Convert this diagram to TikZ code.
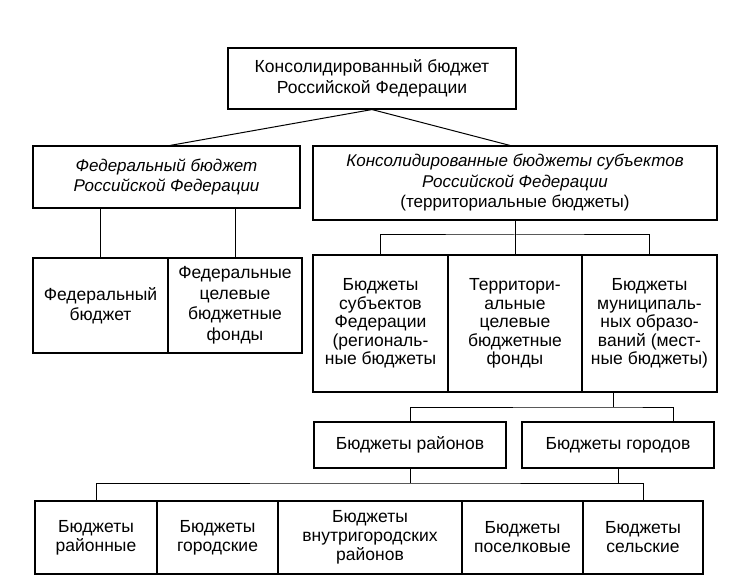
\documentclass[tikz,border=0pt]{standalone}
\usepackage{fontspec}
\setmainfont{Liberation Sans}
\usetikzlibrary{calc}
\begin{document}
\begin{tikzpicture}[x=1pt,y=-1pt,
  box/.style={draw, line width=1.1pt, inner sep=0pt, align=center,
    font=\fontsize{17.5}{20.5}\selectfont},
  itbox/.style={box, font=\fontsize{17}{20.5}\selectfont},
  midbox/.style={box, font=\fontsize{17.5}{18.5}\selectfont},
  lowbox/.style={box, font=\fontsize{17.5}{19}\selectfont},
  link/.style={line width=1pt}]
\useasboundingbox[fill=white] (0,0) rectangle (750,588);
% level 0
\node[box, minimum width=288pt, minimum height=61pt] (top) at (372,78.5)
  {Консолидированный бюджет\\Российской Федерации};
% level 1
\node[itbox, minimum width=267pt, minimum height=62pt] (fed) at (166.5,177)
  {\itshape Федеральный бюджет\\\itshape Российской Федерации};
\node[itbox, minimum width=404pt, minimum height=74pt] (cons) at (515,183)
  {\itshape Консолидированные бюджеты субъектов\\\itshape Российской Федерации\\(территориальные бюджеты)};
% level 2 left
\node[box, minimum width=135pt, minimum height=95pt] (fb) at (100.5,305.5)
  {Федеральный\\бюджет};
\node[box, minimum width=134pt, minimum height=95pt] (ff) at (235,305.5)
  {Федеральные\\целевые\\бюджетные\\фонды};
% level 2 right
\node[midbox, minimum width=135pt, minimum height=137pt] (rs) at (380.5,323.5)
  {Бюджеты\\субъектов\\Федерации\\(региональ-\\ные бюджеты};
\node[midbox, minimum width=134pt, minimum height=137pt] (ts) at (515,323.5)
  {Территори-\\альные\\целевые\\бюджетные\\фонды};
\node[midbox, minimum width=135pt, minimum height=137pt] (mb) at (649.5,323.5)
  {Бюджеты\\муниципаль-\\ных образо-\\ваний (мест-\\ные бюджеты)};
% level 3
\node[box, minimum width=192pt, minimum height=46pt] (rn) at (410,445)
  {Бюджеты районов};
\node[box, minimum width=192pt, minimum height=46pt] (gc) at (618,445)
  {Бюджеты городов};
% level 4
\node[lowbox, minimum width=122pt, minimum height=73pt] (br) at (96,537.5)
  {Бюджеты\\районные};
\node[lowbox, minimum width=121pt, minimum height=73pt] (bg) at (217.5,537.5)
  {Бюджеты\\городские};
\node[lowbox, minimum width=184pt, minimum height=73pt] (bv) at (370,537.5)
  {Бюджеты\\внутригородских\\районов};
\node[lowbox, minimum width=121pt, minimum height=73pt] (bp) at (522.5,537.5)
  {Бюджеты\\поселковые};
\node[lowbox, minimum width=120pt, minimum height=73pt] (bs) at (643,537.5)
  {Бюджеты\\сельские};
% connectors
\draw[link] (top.south) -- ([xshift=3.5pt]fed.north);
\draw[link] (top.south) -- ([xshift=-5pt]cons.north);
\draw[link] (fb.north) -- (fb.north |- fed.south);
\draw[link] (ff.north) -- (ff.north |- fed.south);
\coordinate (j1) at (515,235);
\draw[link] (cons.south) -- (ts.north);
\draw[link] (rs.north) |- (j1) -| (mb.north);
\coordinate (j2) at (613,407);
\draw[link] (j2 |- mb.south) -- (j2);
\draw[link] (rn.north) |- (j2) -| ([xshift=55pt]gc.north);
\coordinate (j3) at (400,483);
\draw[link] (rn.south) -- (rn.south |- j3);
\draw[link] (gc.south) -- (gc.south |- j3);
\draw[link] (br.north) |- (j3) -| (bs.north);
\end{tikzpicture}
\end{document}
